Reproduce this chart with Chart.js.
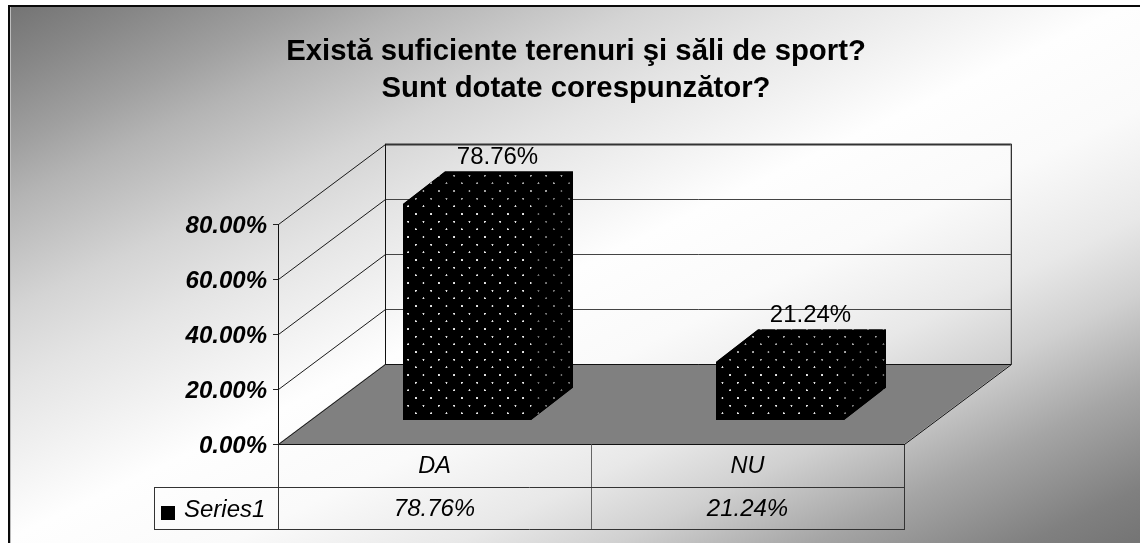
<!DOCTYPE html>
<html><head><meta charset="utf-8">
<style>html,body{margin:0;padding:0;background:#fff}canvas{display:block}</style>
<script src="https://cdn.jsdelivr.net/npm/chart.js@4"></script>
</head><body><canvas id="c" width="1140" height="543"></canvas>
<script>
const categories = ['DA', 'NU'];
const seriesName = 'Series1';
const seriesValues = [78.76, 21.24];
const titleLines = ['Există suficiente terenuri şi săli de sport?', 'Sunt dotate corespunzător?'];
const yMax = 80, yStep = 20;

const FONT = '"Liberation Sans", Arial, sans-serif';
const fmt = v => Number(v).toFixed(2) + '%';
// oblique projection of the 3-D box
const WALL = {dx: 107, dy: -80};
const BAR_OFF = {dx: 32.5, dy: -23.5};
const BAR_DEPTH = {dx: 42, dy: -32.5};
// grey level along the corner-to-corner diagonal
const bgStops = [[0, 112], [.07, 135], [.14, 160], [.19, 180], [.29, 212], [.36, 228], [.5, 254],
                 [.6, 250], [.7, 232], [.77, 208], [.857, 165], [.95, 128], [1, 116]];

const ctx0 = document.getElementById('c').getContext('2d');

function dotPattern(bg, alpha, ox, oy) {
  const s = 46, t = document.createElement('canvas');
  t.width = t.height = s;
  const g = t.getContext('2d');
  g.fillStyle = bg; g.fillRect(0, 0, s, s);
  g.fillStyle = 'rgba(255,255,255,' + alpha + ')';
  for (const [a, b] of [[5.4, 44.1], [28.4, 21.1]])
    for (const i of [-1, 0, 1]) for (const j of [-1, 0, 1]) {
      g.beginPath(); g.arc(a + i * s, b + j * s, 3, 0, Math.PI * 2); g.fill();
    }
  const p = ctx0.createPattern(t, 'repeat');
  p.setTransform(new DOMMatrix().translate(ox, oy).scale(1 / 3));
  return p;
}
const frontDots = dotPattern('#000', 0.9, -BAR_OFF.dx, -BAR_OFF.dy);
const topDots = dotPattern('#000', 0.65, 0, 0);
const sideDots = dotPattern('#000', 0.45, 0, 0);

function line(c, x1, y1, x2, y2, color, w) {
  c.strokeStyle = color; c.lineWidth = w || 1;
  c.beginPath(); c.moveTo(x1, y1); c.lineTo(x2, y2); c.stroke();
}
function poly(c, pts) {
  c.beginPath(); pts.forEach((p, i) => i ? c.lineTo(p[0], p[1]) : c.moveTo(p[0], p[1])); c.closePath();
}

const scene = {
  id: 'scene',
  beforeDraw(chart) {
    const c = chart.ctx, w = chart.width, h = chart.height;
    c.save();
    const k = w * h / (w * w + h * h), cx = w / 2, cy = h / 2;
    const grad = c.createLinearGradient(cx - h * k, cy - w * k, cx + h * k, cy + w * k);
    bgStops.forEach(([t, v]) => grad.addColorStop(t, `rgb(${v},${v},${v})`));
    c.fillStyle = '#fff'; c.fillRect(0, 0, w, h);
    c.fillStyle = grad; c.fillRect(10, 7, w - 10, h - 7);
    c.fillStyle = '#0a0a0a';
    c.fillRect(8, 5, w - 8, 2); c.fillRect(8, 5, 2, h - 5);
    c.fillStyle = '#bdbdbd'; c.fillRect(10, 7, 1, h - 7);
    c.restore();
  },
  beforeDatasetsDraw(chart) {
    const c = chart.ctx, x = chart.scales.x, y = chart.scales.y;
    const x0 = x.left, x1 = x.right, y0 = y.getPixelForValue(0), yT = y.getPixelForValue(yMax);
    const {dx, dy} = WALL;
    c.save();
    poly(c, [[x0, y0], [x1, y0], [x1 + dx, y0 + dy], [x0 + dx, y0 + dy]]);
    c.fillStyle = '#808080'; c.fill();
    y.ticks.forEach(t => {
      const py = y.getPixelForValue(t.value);
      const top = t.value === yMax, bottom = t.value === 0;
      line(c, x0 + .5, py + .5, x0 + dx + .5, py + dy + .5, '#1a1a1a', 1);
      const by = Math.round(py + dy) + .5;
      line(c, x0 + dx, by, x1 + dx + .5, by, top ? '#333' : (bottom ? '#111' : '#444'), top ? 2 : 1);
    });
    line(c, x0 + dx + .5, yT + dy, x0 + dx + .5, y0 + dy, '#111', 1);
    line(c, x1 + dx + .5, yT + dy, x1 + dx + .5, y0 + dy, '#333', 1);
    line(c, x1 + dx - .5, yT + dy, x1 + dx - .5, y0 + dy, 'rgba(120,120,120,.45)', 1);
    line(c, x1 + .5, y0 + .5, x1 + dx + .5, y0 + dy + .5, '#111', 1);
    c.restore();
  },
  beforeDatasetDraw(chart) {
    chart.ctx.save();
    chart.ctx.translate(BAR_OFF.dx, BAR_OFF.dy);
  },
  afterDatasetDraw(chart, args) {
    const c = chart.ctx;
    c.restore();
    c.save();
    const {dx, dy} = BAR_DEPTH;
    args.meta.data.forEach((el, i) => {
      const p = el.getProps(['x', 'y', 'base', 'width'], true);
      const l = p.x - p.width / 2 + BAR_OFF.dx, r = l + p.width;
      const t = p.y + BAR_OFF.dy, b = p.base + BAR_OFF.dy;
      // black silhouette first so that no seams show between the faces
      poly(c, [[l, t], [l + dx, t + dy], [r + dx, t + dy], [r + dx, b + dy], [r, b], [r, t]]);
      c.fillStyle = '#000'; c.fill();
      c.save();
      poly(c, [[l, t], [l + dx, t + dy], [r + dx, t + dy], [r, t]]);
      c.clip();
      c.fillStyle = topDots; c.fillRect(l, t + dy - 1, p.width + dx + 2, -dy + 2);
      c.restore();
      c.save();
      poly(c, [[r, t], [r + dx, t + dy], [r + dx, b + dy], [r, b]]);
      c.clip();
      c.fillStyle = sideDots; c.fillRect(r, t + dy - 1, dx + 1, b - t - dy + 2);
      c.restore();
      c.fillStyle = '#000'; c.font = '24px ' + FONT;
      c.textAlign = 'center'; c.textBaseline = 'middle';
      c.fillText(fmt(seriesValues[i]), p.x + BAR_OFF.dx + 30.5, t + dy - 14);
    });
    c.restore();
  },
  afterDraw(chart) {
    const c = chart.ctx, x = chart.scales.x;
    const n = categories.length, band = (x.right - x.left) / n;
    const y0 = x.top, r1 = y0 + 43, r2 = y0 + 85;
    const legendLeft = 154;
    c.save();
    const col = '#333';
    for (let i = 0; i <= n; i++) {
      const px = Math.round(x.left + band * i) + .5;
      line(c, px, y0 + 1, px, r2, i === 1 ? '#666' : col, 1);
    }
    line(c, legendLeft, r1 + .5, x.right + 1, r1 + .5, col, 1);
    line(c, legendLeft, r2 + .5, x.right + 1, r2 + .5, col, 1);
    line(c, legendLeft + .5, r1, legendLeft + .5, r2 + 1, col, 1);
    c.fillStyle = '#000';
    c.fillRect(161, r1 + 19, 14, 14);
    c.font = 'italic 24px ' + FONT;
    c.textBaseline = 'middle'; c.textAlign = 'left';
    c.fillText(seriesName, 184, r1 + 23);
    c.textAlign = 'center';
    seriesValues.forEach((v, i) => c.fillText(fmt(v), x.getPixelForValue(i), r1 + 22));
    c.restore();
  }
};

new Chart(ctx0, {
  type: 'bar',
  data: {
    labels: categories,
    datasets: [{
      label: seriesName,
      data: seriesValues,
      backgroundColor: frontDots,
      borderWidth: 0,
      barPercentage: 128 / 313,
      categoryPercentage: 1,
      clip: false
    }]
  },
  options: {
    responsive: false,
    animation: false,
    devicePixelRatio: 1,
    layout: {padding: {left: 12, right: 0, top: 0, bottom: 0}},
    events: [],
    plugins: {
      legend: {display: false},
      tooltip: {enabled: false},
      title: {
        display: true,
        text: titleLines,
        color: '#000',
        font: {family: FONT, weight: 'bold', size: 29.3, lineHeight: 1.263},
        padding: {top: 33, bottom: 117}
      }
    },
    scales: {
      x: {
        offset: true,
        grid: {display: false},
        border: {display: true, color: '#111', width: 1},
        ticks: {font: {family: FONT, style: 'italic', size: 23.5}, color: '#000', padding: 0, maxRotation: 0},
        afterFit(s) { s.height = 99; }
      },
      y: {
        min: 0, max: yMax,
        border: {display: true, color: '#111', width: 1},
        grid: {drawOnChartArea: false, drawTicks: true, tickLength: 5, color: '#222'},
        ticks: {stepSize: yStep, callback: fmt, color: '#000', padding: 6, labelOffset: 2,
                font: {family: FONT, style: 'italic', weight: 'bold', size: 24}},
        afterFit(s) { s.width = 266; }
      },
      gutter: {
        position: 'right', display: true,
        grid: {display: false}, border: {display: false}, ticks: {display: false},
        afterFit(s) { s.width = 236; }
      }
    }
  },
  plugins: [scene]
});
</script></body></html>
